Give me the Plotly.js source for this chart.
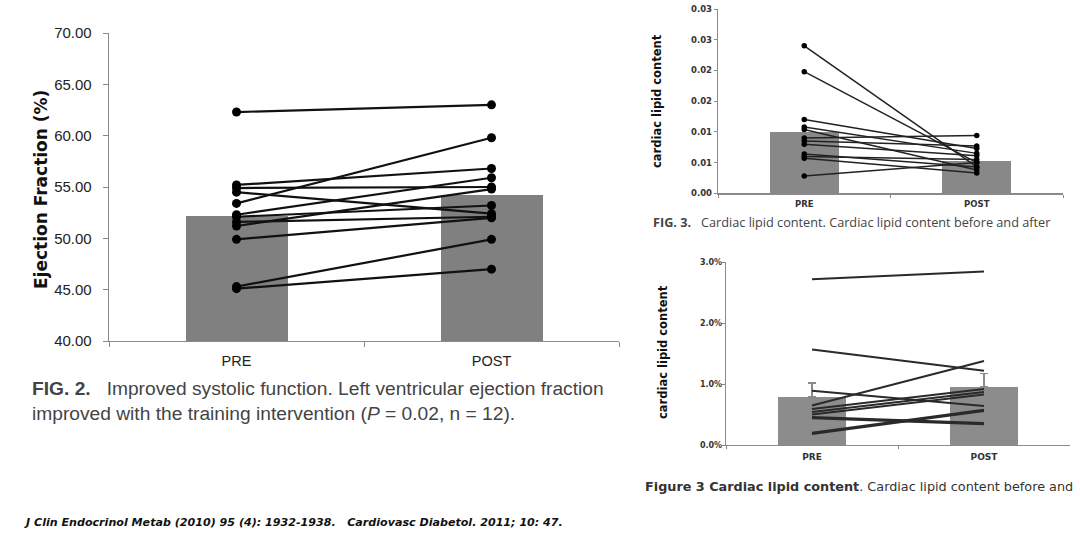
<!DOCTYPE html>
<html>
<head>
<meta charset="utf-8">
<script src="https://cdn.plot.ly/plotly-3.0.1.min.js"></script>
<style>html,body{margin:0;padding:0;background:#fff;}#chart{width:1080px;height:540px;}</style>
</head>
<body>
<div id="chart"></div>
<script>
// ---------- data ----------
const cats = ['PRE', 'POST'];

// Fig. 2 – ejection fraction (%), J Clin Endocrinol Metab 2010
const efPre  = [62.3, 55.2, 54.9, 54.5, 53.4, 52.3, 52.1, 51.6, 51.2, 49.9, 45.3, 45.1];
const efPost = [63.0, 56.8, 55.0, 52.4, 59.8, 55.9, 53.2, 52.1, 54.8, 52.0, 49.9, 47.0];
const efMean = [52.2, 54.2];
const efTicks = [40, 45, 50, 55, 60, 65, 70];

// Fig. 3 – cardiac lipid content, J Clin Endocrinol Metab 2010
const lipPre  = [0.0240, 0.0198, 0.0120, 0.0108, 0.0104, 0.0090, 0.0085, 0.0080, 0.0064, 0.0060, 0.0057, 0.0028];
const lipPost = [0.0043, 0.0050, 0.0073, 0.0065, 0.0038, 0.0094, 0.0077, 0.0061, 0.0043, 0.0055, 0.0033, 0.0050];
const lipMean = [0.0099, 0.0053];
const lipTickVals = [0, 0.005, 0.010, 0.015, 0.020, 0.025, 0.030];
const lipTickText = ['0.00', '0.01', '0.01', '0.02', '0.02', '0.03', '0.03'];

// Figure 3 – cardiac lipid content, Cardiovasc Diabetol 2011
const lip2Pre  = [0.0272, 0.0157, 0.0089, 0.0065, 0.0059, 0.0054, 0.0050, 0.0046, 0.0044, 0.0020, 0.0018];
const lip2Post = [0.0285, 0.0122, 0.0064, 0.0138, 0.0092, 0.0087, 0.0083, 0.0036, 0.0034, 0.0058, 0.0056];
const lip2Mean = [0.0079, 0.0096];
const lip2Err  = [0.0023, 0.0021];
const lip2Ticks = [0, 0.01, 0.02, 0.03];

// ---------- helpers ----------
const W = 1080, H = 540;
const px = v => v / W;          // pixel -> paper x
const py = v => 1 - v / H;      // pixel -> paper y

const traces = [];

// Panel 1
traces.push({type: 'bar', x: cats, y: efMean, xaxis: 'x', yaxis: 'y',
  width: 0.40, marker: {color: '#808080'}, hoverinfo: 'skip', showlegend: false});
efPre.forEach((v, i) => traces.push({type: 'scatter', mode: 'lines+markers', x: cats, y: [v, efPost[i]],
  xaxis: 'x', yaxis: 'y', line: {color: '#111', width: 2.2}, marker: {color: '#000', size: 9}, showlegend: false}));

// Panel 2
traces.push({type: 'bar', x: cats, y: lipMean, xaxis: 'x2', yaxis: 'y2',
  width: 0.40, marker: {color: '#888888'}, hoverinfo: 'skip', showlegend: false});
lipPre.forEach((v, i) => traces.push({type: 'scatter', mode: 'lines+markers', x: cats, y: [v, lipPost[i]],
  xaxis: 'x2', yaxis: 'y2', line: {color: '#222', width: 1.5}, marker: {color: '#000', size: 5.5}, showlegend: false}));

// Panel 3
traces.push({type: 'bar', x: cats, y: lip2Mean, xaxis: 'x3', yaxis: 'y3',
  width: 0.40, marker: {color: '#8c8c8c'}, hoverinfo: 'skip', showlegend: false,
  error_y: {type: 'data', symmetric: false, array: lip2Err, arrayminus: [0, 0], color: '#8a8a8a', thickness: 1.5, width: 4}});
lip2Pre.forEach((v, i) => traces.push({type: 'scatter', mode: 'lines', x: cats, y: [v, lip2Post[i]],
  xaxis: 'x3', yaxis: 'y3', line: {color: '#2a2a2a', width: 2}, showlegend: false}));

const axisBase = {showgrid: false, zeroline: false, showline: true, linecolor: '#8a8a8a', linewidth: 1.3,
  ticks: 'outside', tickcolor: '#8a8a8a', ticklen: 4, fixedrange: true};

const layout = {
  width: W, height: H,
  margin: {l: 0, r: 0, t: 0, b: 0},
  paper_bgcolor: '#fff', plot_bgcolor: 'rgba(0,0,0,0)',
  showlegend: false,
  bargap: 0,
  // Panel 1 axes
  xaxis: Object.assign({}, axisBase, {type: 'category', domain: [px(109), px(619)], anchor: 'y',
    range: [-0.5, 1.5], tickson: 'boundaries', ticklen: 5, ticklabelstandoff: 6,
    tickfont: {family: 'Liberation Sans, Arial, sans-serif', size: 14.5, color: '#222'}}),
  yaxis: Object.assign({}, axisBase, {domain: [py(341), py(33)], anchor: 'x', range: [40, 70],
    tickvals: efTicks, tickformat: '.2f', ticklen: 5, ticklabelstandoff: 8,
    tickfont: {family: 'Liberation Sans, Arial, sans-serif', size: 15, color: '#222'}}),
  // Panel 2 axes
  xaxis2: Object.assign({}, axisBase, {type: 'category', domain: [px(718), px(1063)], anchor: 'y2',
    range: [-0.5, 1.5], tickson: 'boundaries', ticklen: 3, ticklabelstandoff: 2,
    tickfont: {family: 'DejaVu Sans, sans-serif', size: 8.5, color: '#333', weight: 'bold'}}),
  yaxis2: Object.assign({}, axisBase, {domain: [py(193.3), py(9)], anchor: 'x2', range: [0, 0.03],
    tickvals: lipTickVals, ticktext: lipTickText, ticklen: 3,
    tickfont: {family: 'DejaVu Sans, sans-serif', size: 8.5, color: '#333', weight: 'bold'}}),
  // Panel 3 axes
  xaxis3: Object.assign({}, axisBase, {type: 'category', domain: [px(726), px(1070)], anchor: 'y3',
    range: [-0.5, 1.5], tickson: 'boundaries', ticklen: 3, ticklabelstandoff: 3,
    tickfont: {family: 'DejaVu Sans, sans-serif', size: 9, color: '#333', weight: 'bold'}}),
  yaxis3: Object.assign({}, axisBase, {domain: [py(445), py(262.3)], anchor: 'x3', range: [0, 0.03],
    tickvals: lip2Ticks, tickformat: '.1%', ticklen: 3, ticklabelstandoff: -2,
    tickfont: {family: 'DejaVu Sans, sans-serif', size: 8, color: '#333', weight: 'bold'}}),
  annotations: [
    // axis titles
    {xref: 'paper', yref: 'paper', x: px(41), y: py(190), text: '<b>Ejection Fraction (%)</b>', textangle: -90,
      showarrow: false, xanchor: 'center', yanchor: 'middle', font: {family: 'DejaVu Sans, sans-serif', size: 17, color: '#111'}},
    {xref: 'paper', yref: 'paper', x: px(657), y: py(101), text: '<b>cardiac lipid content</b>', textangle: -90,
      showarrow: false, xanchor: 'center', yanchor: 'middle', font: {family: 'DejaVu Sans, sans-serif', size: 11.5, color: '#111'}},
    {xref: 'paper', yref: 'paper', x: px(663), y: py(352), text: '<b>cardiac lipid content</b>', textangle: -90,
      showarrow: false, xanchor: 'center', yanchor: 'middle', font: {family: 'DejaVu Sans, sans-serif', size: 11.5, color: '#111'}},
    // captions
    {xref: 'paper', yref: 'paper', x: px(30), y: py(388), xanchor: 'left', yanchor: 'middle', showarrow: false, align: 'left',
      text: '<b>FIG. 2.</b>   Improved systolic function. Left ventricular ejection fraction',
      font: {family: 'Liberation Sans, Arial, sans-serif', size: 19.2, color: '#444'}},
    {xref: 'paper', yref: 'paper', x: px(30), y: py(413), xanchor: 'left', yanchor: 'middle', showarrow: false, align: 'left',
      text: 'improved with the training intervention (<i>P</i> = 0.02, n = 12).',
      font: {family: 'Liberation Sans, Arial, sans-serif', size: 19.2, color: '#444'}},
    {xref: 'paper', yref: 'paper', x: px(651), y: py(222), xanchor: 'left', yanchor: 'middle', showarrow: false,
      text: '<b>FIG. 3.</b>   Cardiac lipid content. Cardiac lipid content before and after',
      font: {family: 'Open Sans, sans-serif', size: 12.7, color: '#444'}},
    {xref: 'paper', yref: 'paper', x: px(643), y: py(486), xanchor: 'left', yanchor: 'middle', showarrow: false,
      text: '<b>Figure 3 Cardiac lipid content</b>. Cardiac lipid content before and',
      font: {family: 'DejaVu Sans, sans-serif', size: 12.8, color: '#333'}},
    {xref: 'paper', yref: 'paper', x: px(22), y: py(522), xanchor: 'left', yanchor: 'middle', showarrow: false,
      text: '<b><i>J Clin Endocrinol Metab (2010) 95 (4): 1932-1938.   Cardiovasc Diabetol. 2011; 10: 47.</i></b>',
      font: {family: 'DejaVu Sans, sans-serif', size: 11.1, color: '#111'}}
  ]
};

Plotly.newPlot('chart', traces, layout, {staticPlot: true, displayModeBar: false});
</script>
</body>
</html>
